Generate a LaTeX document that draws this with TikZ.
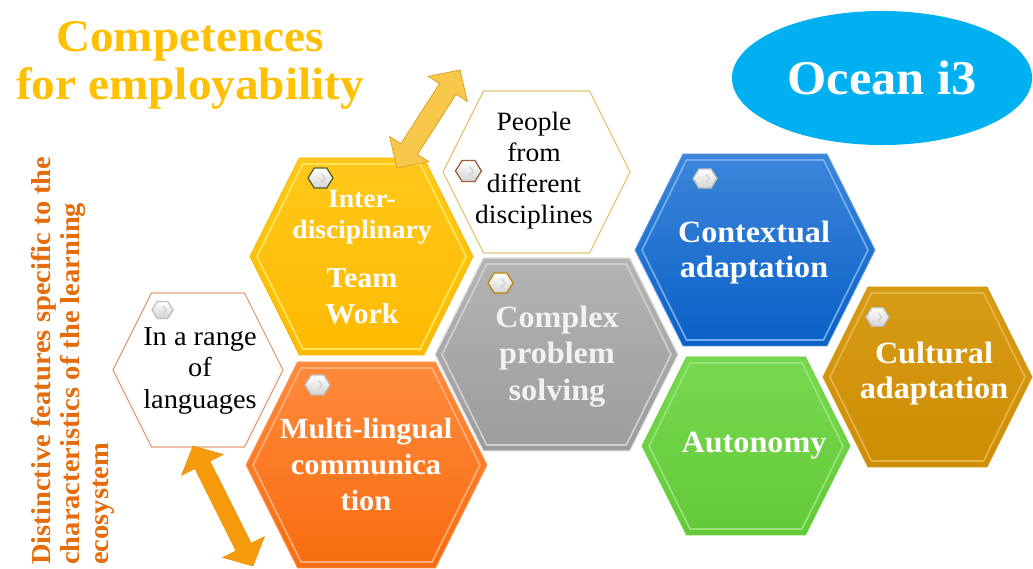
\documentclass[tikz,border=0pt]{standalone}
\usepackage{fontspec}
\setmainfont{Liberation Serif}[FakeStretch=1.04]
\usetikzlibrary{calc,shapes.geometric}

\definecolor{titlegold}{HTML}{FFC000}
\definecolor{sideorange}{HTML}{E46C0A}
\definecolor{oceanblue}{HTML}{00B0F0}

% strut that fixes the top of a label at 0.8em above its first baseline
\newcommand{\topstrut}{\rule{0pt}{0.8em}}

% flat-topped hexagon: name, centre x, centre y, half width, half height, body style, bevel style
\newcommand{\hexagon}[7]{%
  \coordinate (#1) at (#2,#3);
  \path[#6] ({#2-#4},#3) -- ({#2-#4+#5/2},{#3-#5}) -- ({#2+#4-#5/2},{#3-#5})
    -- ({#2+#4},#3) -- ({#2+#4-#5/2},{#3+#5}) -- ({#2-#4+#5/2},{#3+#5}) -- cycle;
  \path[#7] ({#2-#4+7},#3) -- ({#2-#4+#5/2+3.5},{#3-#5+6}) -- ({#2+#4-#5/2-3.5},{#3-#5+6})
    -- ({#2+#4-7},#3) -- ({#2+#4-#5/2-3.5},{#3+#5-6}) -- ({#2-#4+#5/2+3.5},{#3+#5-6}) -- cycle;
}

% small bullet hexagon: centre x, centre y, outline colour, half width
\newcommand{\bullethex}[4]{%
  \path[top color=white, bottom color=black!17, draw=#3, line width=0.9pt]
    ({#1-#4},#2) -- ({#1-#4/2},{#2-0.8*#4}) -- ({#1+#4/2},{#2-0.8*#4})
    -- ({#1+#4},#2) -- ({#1+#4/2},{#2+0.8*#4}) -- ({#1-#4/2},{#2+0.8*#4}) -- cycle;
  \draw[black!18, line width=0.9pt] ({#1+1},{#2-0.35*#4}) -- ({#1+0.35*#4},#2) -- ({#1+1},{#2+0.35*#4});
}

% block double arrow between two named points: ends, head length, head half width, shaft half width, style
\newcommand{\dblarrow}[6]{%
  \coordinate (#1-head) at ($(#1)!#3!(#2)$);
  \coordinate (#2-head) at ($(#2)!#3!(#1)$);
  \path[#6] (#1) -- ($(#1-head)!#4!90:(#2)$) -- ($(#1-head)!#5!90:(#2)$)
    -- ($(#2-head)!#5!-90:(#1)$) -- ($(#2-head)!#4!-90:(#1)$) -- (#2)
    -- ($(#2-head)!#4!90:(#1)$) -- ($(#2-head)!#5!90:(#1)$)
    -- ($(#1-head)!#5!-90:(#2)$) -- ($(#1-head)!#4!-90:(#2)$) -- cycle;
}

\begin{document}
\begin{tikzpicture}[x=0.025cm, y=-0.025cm,
  hexlabel/.style={inner sep=0pt, anchor=north, align=center, text=white,
    font=\bfseries\fontsize{22}{25.4}\selectfont},
  plainlabel/.style={inner sep=0pt, anchor=north, align=center, text=black,
    font=\fontsize{18.8}{22}\selectfont},
  yellowbody/.style={top color=FFC81A, bottom color=FFBA00, draw=F5B800, line width=0.6pt},
  yellowbevel/.style={draw=FFE45A, line width=1.3pt},
  graybody/.style={top color=B4B4B4, bottom color=9C9C9C, draw=E2E2E2, line width=0.8pt},
  graybevel/.style={draw=CFCFCF, line width=1.2pt},
  bluebody/.style={top color=3C86DA, bottom color=0A60C6, draw=5A9AE0, line width=0.6pt},
  bluebevel/.style={draw=72AEEE, line width=1.2pt},
  greenbody/.style={top color=79D84F, bottom color=62CA39, draw=6CD244, line width=0.6pt},
  greenbevel/.style={draw=98E378, line width=1.2pt},
  goldbody/.style={top color=D79B14, bottom color=CD8E05, draw=D49510, line width=0.6pt},
  goldbevel/.style={draw=E6B449, line width=1.2pt},
  orangebody/.style={top color=FF8A3C, bottom color=F86C10, draw=FF9A55, line width=0.6pt},
  orangebevel/.style={draw=FFAE78, line width=1.2pt},
  nobevel/.style={draw=none},
]
\definecolor{FFC81A}{HTML}{FFC81A}\definecolor{FFBA00}{HTML}{FFBA00}\definecolor{F5B800}{HTML}{F5B800}
\definecolor{FFE45A}{HTML}{FFE45A}\definecolor{B4B4B4}{HTML}{B4B4B4}\definecolor{9C9C9C}{HTML}{9C9C9C}
\definecolor{E2E2E2}{HTML}{E2E2E2}\definecolor{CFCFCF}{HTML}{CFCFCF}\definecolor{3C86DA}{HTML}{3C86DA}
\definecolor{0A60C6}{HTML}{0A60C6}\definecolor{5A9AE0}{HTML}{5A9AE0}\definecolor{72AEEE}{HTML}{72AEEE}
\definecolor{79D84F}{HTML}{79D84F}\definecolor{62CA39}{HTML}{62CA39}\definecolor{6CD244}{HTML}{6CD244}
\definecolor{98E378}{HTML}{98E378}\definecolor{D79B14}{HTML}{D79B14}\definecolor{CD8E05}{HTML}{CD8E05}
\definecolor{D49510}{HTML}{D49510}\definecolor{E6B449}{HTML}{E6B449}\definecolor{FF8A3C}{HTML}{FF8A3C}
\definecolor{F86C10}{HTML}{F86C10}\definecolor{FF9A55}{HTML}{FF9A55}\definecolor{FFAE78}{HTML}{FFAE78}
\definecolor{peopleline}{HTML}{E5C679}\definecolor{rangeline}{HTML}{E3A27C}
\definecolor{arrowgold}{HTML}{F8C84A}\definecolor{arrowgoldline}{HTML}{DCA52A}
\definecolor{arroworange}{HTML}{F59B0C}\definecolor{arroworangeline}{HTML}{EE8E00}
\definecolor{bulletgreen}{HTML}{4F6228}\definecolor{bulletbrown}{HTML}{9C5B3C}
\definecolor{bulletgold}{HTML}{B8860B}\definecolor{bulletgray}{HTML}{BDBDBD}

\useasboundingbox (0,0) rectangle (1033,569);
\fill[white] (0,0) rectangle (1033,569);

% honeycomb
\hexagon{hexTeam}{361.5}{256.5}{111.5}{98.5}{yellowbody}{yellowbevel}
\hexagon{hexPeople}{536.5}{172}{93.5}{81}{fill=white, draw=peopleline, line width=0.8pt}{nobevel}
\hexagon{hexComplex}{556.5}{354.5}{121.5}{96.5}{graybody}{graybevel}
\hexagon{hexContext}{755}{250}{120}{96}{bluebody}{bluebevel}
\hexagon{hexAuto}{746}{446}{104}{89}{greenbody}{greenbevel}
\hexagon{hexCulture}{927.5}{377}{104.5}{90}{goldbody}{goldbevel}
\hexagon{hexLingual}{366.5}{465}{120.5}{103}{orangebody}{orangebevel}
\hexagon{hexRange}{198}{370}{85}{77}{fill=white, draw=rangeline, line width=0.8pt}{nobevel}

% double arrows
\coordinate (teamEnd) at (397,168);
\coordinate (peopleEnd) at (460,70);
\coordinate (rangeEnd) at (193,446);
\coordinate (lingualEnd) at (253,566);
\dblarrow{teamEnd}{peopleEnd}{16pt}{16.5pt}{7pt}{fill=arrowgold, draw=arrowgoldline, line width=0.6pt}
\dblarrow{rangeEnd}{lingualEnd}{15pt}{16.5pt}{6pt}{fill=arroworange, draw=arroworangeline, line width=0.4pt}

% bullets
\bullethex{320.5}{178}{bulletgreen}{12.5}
\bullethex{468.5}{171}{bulletbrown}{13}
\bullethex{500.5}{283}{bulletgold}{12.5}
\bullethex{705}{178.5}{bulletgray}{12}
\bullethex{877.5}{317}{bulletgray}{11.5}
\bullethex{162.5}{310}{bulletgray}{10.5}
\bullethex{317.5}{385}{bulletgray}{12.5}

% labels
\node[hexlabel, font=\bfseries\fontsize{18.8}{22}\selectfont, text=white] (teamA) at (362,185.9)
  {\topstrut Inter-\\disciplinary};
\node[hexlabel, font=\bfseries\fontsize{20.5}{25.6}\selectfont] (teamB) at (362,263.9)
  {\topstrut Team\\Work};
\node[plainlabel] (people) at (534,108.9) {\topstrut People\\from\\different\\disciplines};
\node[hexlabel, text=black!5, font=\bfseries\fontsize{22}{26}\selectfont] (complex) at (557,302.3)
  {\topstrut Complex\\problem\\solving};
\node[hexlabel, font=\bfseries\fontsize{22}{25}\selectfont] (context) at (754,217.3)
  {\topstrut Contextual\\adaptation};
\node[hexlabel, font=\bfseries\fontsize{22}{25}\selectfont] (culture) at (934,338.3)
  {\topstrut Cultural\\adaptation};
\node[hexlabel] (auto) at (754,427.3) {\topstrut Autonomy};
\node[hexlabel, font=\bfseries\fontsize{20.8}{25.6}\selectfont] (lingual) at (366,414.6)
  {\topstrut Multi-lingual\\communica\\tion};
\node[plainlabel, font=\fontsize{19.4}{22.4}\selectfont] (range) at (200,323.2)
  {\topstrut In a range\\of\\languages};

% title, side caption and project badge
\node[inner sep=0pt, anchor=north, align=center, text=titlegold,
  font=\bfseries\fontsize{32.3}{34.1}\selectfont] (title) at (190,14.7)
  {\topstrut Competences\\for employability};
\node[inner sep=0pt, rotate=90, anchor=north west, align=left, text=sideorange,
  font=\bfseries\fontsize{19.5}{20.6}\selectfont] (side) at (28.1,565)
  {\topstrut Distinctive features specific to the\\characteristics of the learning\\ecosystem};
\node[ellipse, fill=oceanblue, minimum width=7.5cm, minimum height=3.35cm, inner sep=0pt,
  text=white, font=\bfseries\fontsize{34.5}{38}\selectfont] (ocean) at (882,78) {Ocean i3};
\end{tikzpicture}
\end{document}
